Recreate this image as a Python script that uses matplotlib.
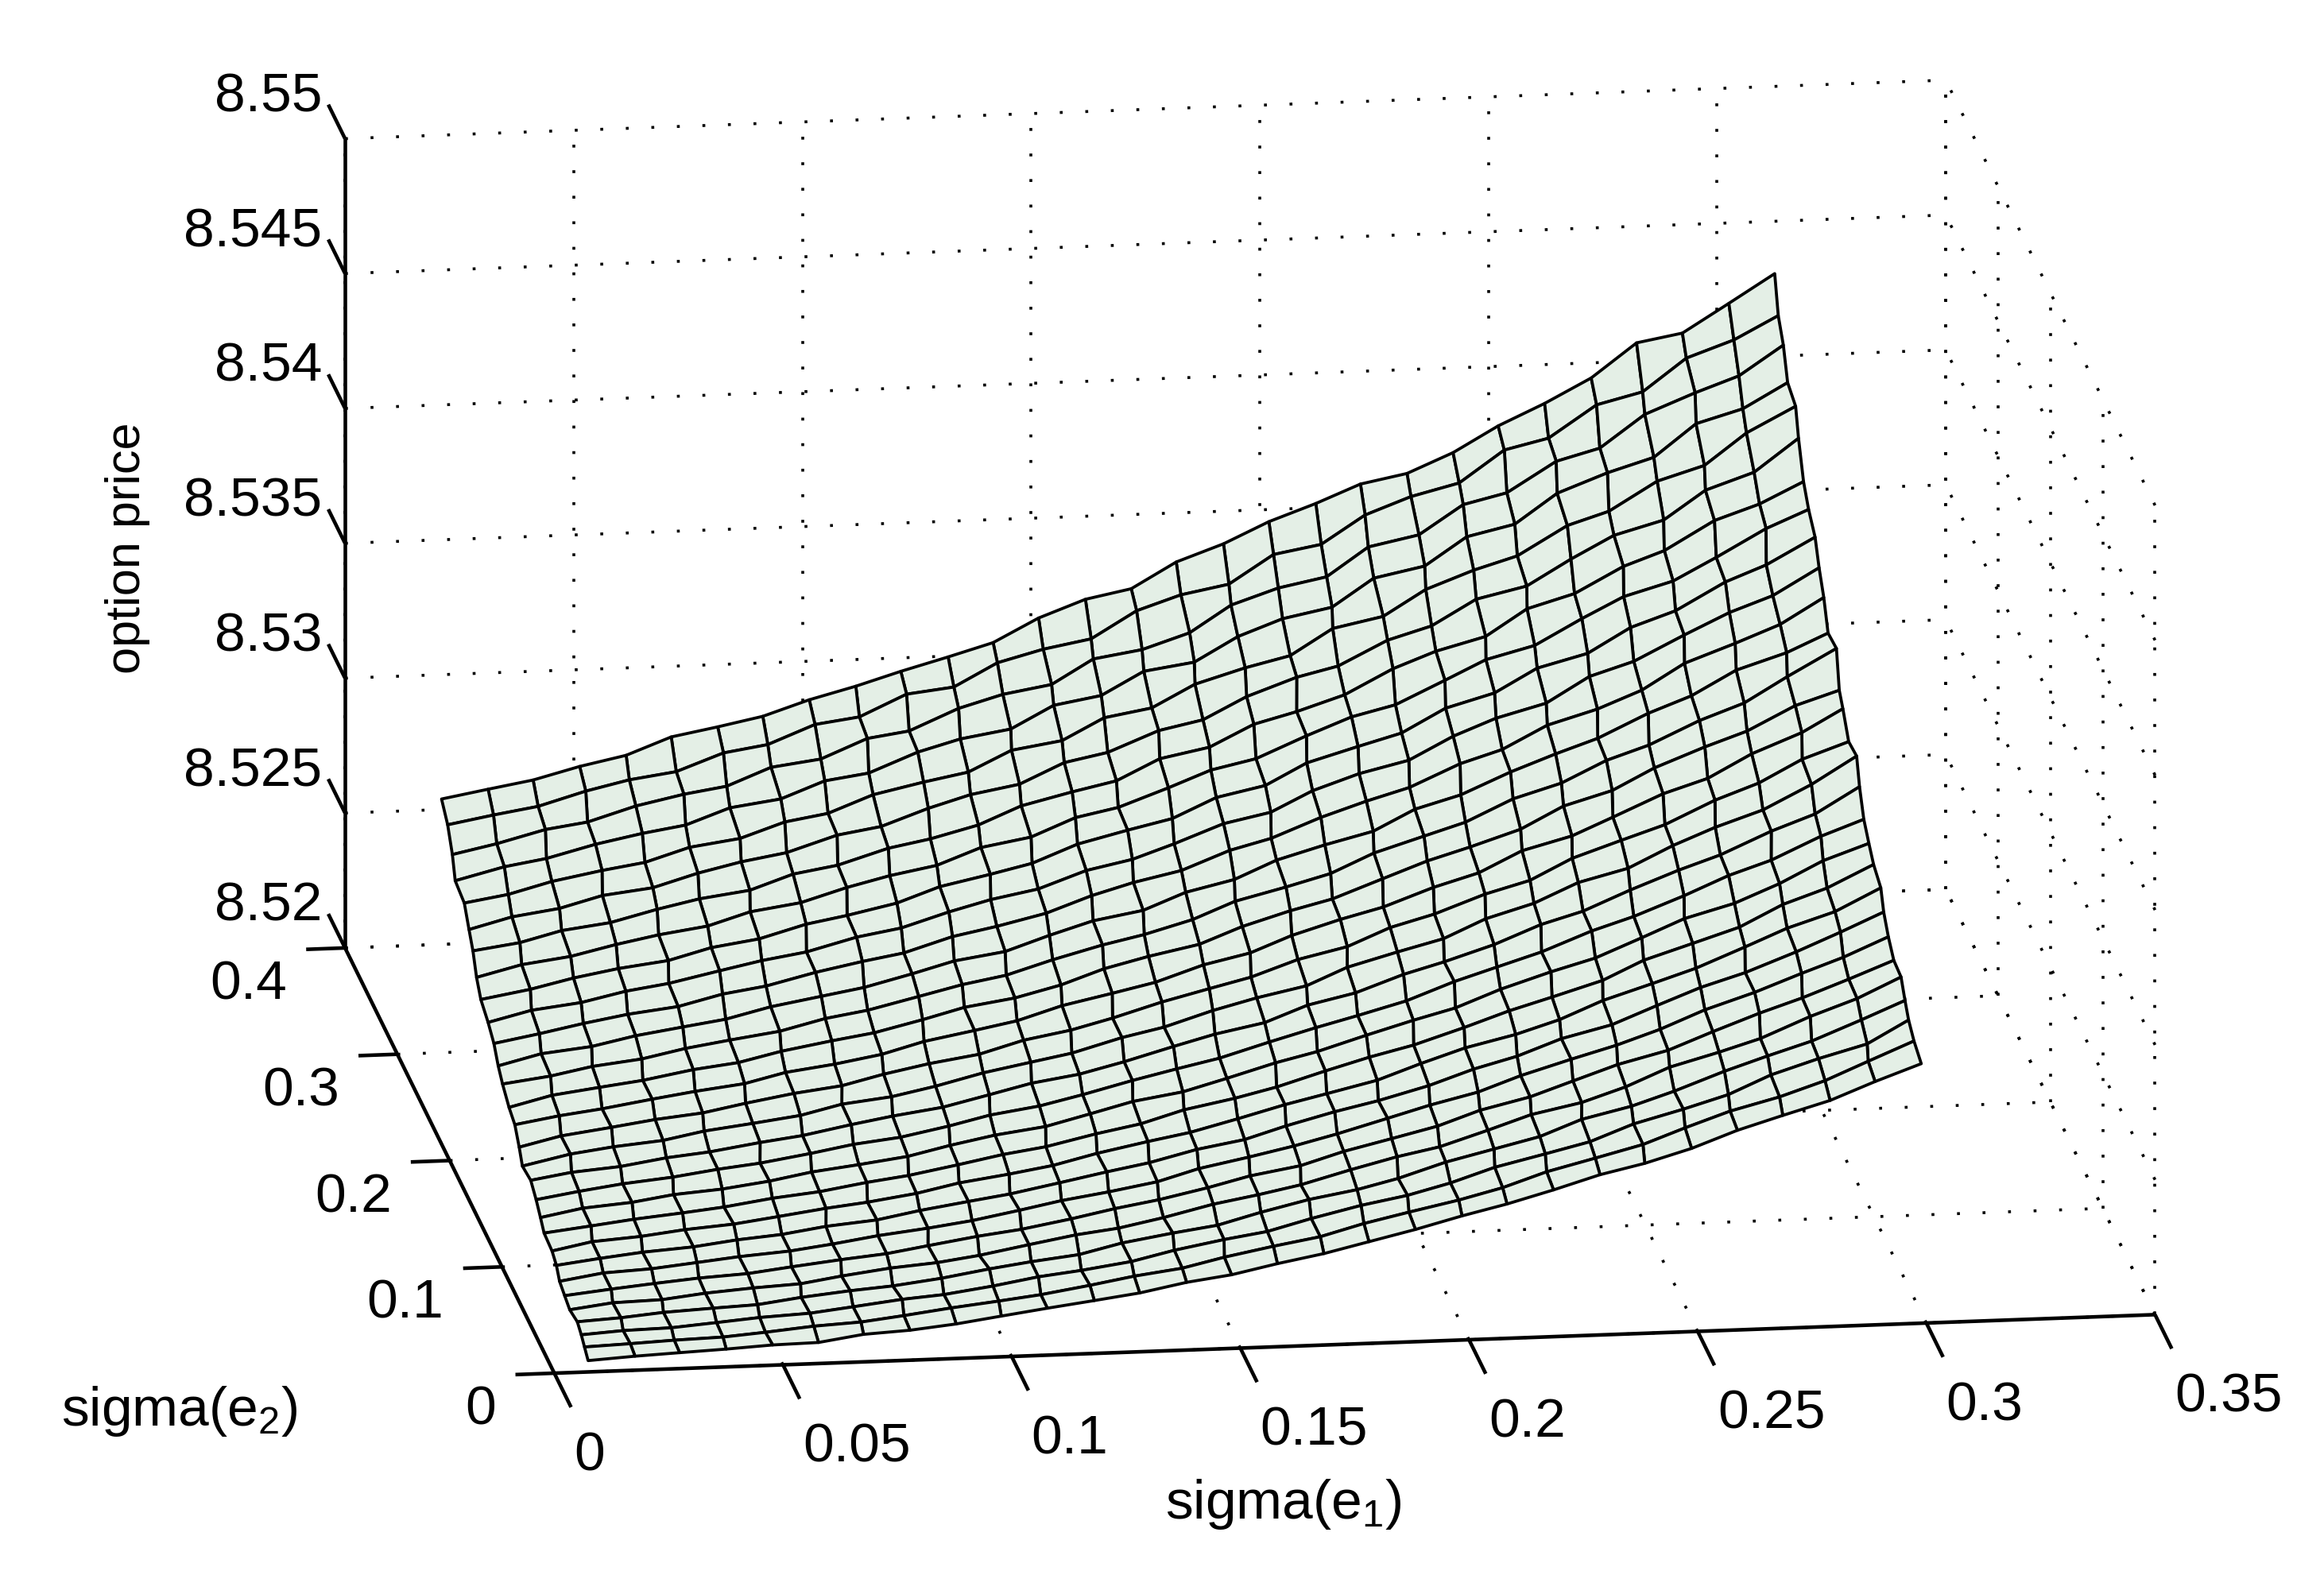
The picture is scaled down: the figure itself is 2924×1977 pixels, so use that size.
import numpy as np
import matplotlib
matplotlib.use('Agg')
import matplotlib.pyplot as plt
from mpl_toolkits.mplot3d import proj3d

plt.rcParams['font.family'] = ['Liberation Sans', 'DejaVu Sans']
plt.rcParams['mathtext.default'] = 'regular'

xticks = [0, 0.05, 0.1, 0.15, 0.2, 0.25, 0.3, 0.35]
yticks = [0, 0.1, 0.2, 0.3, 0.4]
zticks = [8.52, 8.525, 8.53, 8.535, 8.54, 8.545, 8.55]

x_vals = [.0075,.0176,.0276,.0377,.0477,.0578,.0678,.0779,.0879,.098,.108,.1181,.1281,.1382,.1482,.1583,.1683,.1784,.1884,.1985,.2085,.2186,.2286,.2387,.2487,.2588,.2688,.2789,.2889,.299]
y_vals = [.001,.0107,.0203,.030,.0396,.0493,.059,.0686,.0783,.0879,.0976,.1073,.1169,.1266,.1362,.1459,.1556,.1652,.1749,.1845,.1942,.2039,.2135,.2232,.2328,.2425,.2522,.2618,.2715,.2811]

# sigma(e1) moves a little from row to row, in units of 0.8e-4
x_shift = [
[0,2,-1,0,2,1,-1,0,1,-2,-1,1,0,2,0,-1,1,-2,0,1,-1,0,2,-2,1,0,-1,2,0,0],
[4,3,-2,5,-4,2,6,-3,1,5,-5,3,-1,4,-6,2,5,-2,-4,6,1,-5,3,7,-3,-6,4,2,-5,-6],
[9,-3,4,1,-6,5,-2,6,-5,3,2,-7,5,-4,7,-1,-6,4,6,-3,-7,5,2,-5,6,3,-6,-2,6,-7],
[12,5,-4,6,2,-5,4,-6,3,7,-4,1,-7,6,3,-5,2,7,-6,-2,5,4,-7,3,-5,6,-1,-7,4,-3],
[5,-4,6,-2,4,7,-6,1,5,-7,4,6,-3,-6,5,2,-7,3,5,-5,2,-6,7,1,-4,5,-7,3,6,0],
[5,6,-1,-6,3,-4,6,5,-7,2,-3,7,1,-5,4,-7,6,-2,4,3,-6,5,-3,-7,6,2,4,-5,-3,-6],
[5,-2,5,3,-7,6,-3,-5,7,1,6,-6,-2,5,-7,4,2,-6,7,-4,3,-7,6,4,-2,-6,5,7,-4,-7],
[10,3,-6,7,1,-3,-7,6,-2,5,-7,3,7,-4,2,6,-6,1,-5,7,4,-3,-7,5,3,-4,-7,6,2,-6],
[12,-5,4,-3,6,2,7,-6,3,-7,5,-2,-6,7,-3,1,5,-7,6,-1,-5,7,2,-6,4,-3,6,-5,1,0],
[4,6,-2,5,-7,-1,3,6,-5,4,2,-7,5,1,-6,7,-4,3,-2,-7,6,3,-5,7,-6,2,5,-3,-7,-6],
[8,-3,7,-6,2,5,-5,-2,7,-4,-6,6,3,-7,5,-1,7,-5,4,6,-4,-7,6,1,3,-7,5,2,-4,-5],
[10,1,-5,6,4,-7,6,-3,1,7,-6,3,-4,6,2,-7,4,5,-6,1,7,-3,-6,5,-5,6,3,-7,4,-5],
[9,-6,3,2,-5,7,-2,5,-7,4,6,-5,1,-3,7,-6,5,-4,2,7,-7,3,6,-5,-1,5,-6,7,2,-3],
[0,5,-3,7,-6,1,6,-7,4,-2,3,7,-6,5,-5,2,-3,7,-7,4,5,-6,1,-4,7,3,-6,-2,6,3],
[5,-7,6,-1,4,-5,2,7,-4,-6,6,1,5,-7,3,6,-5,-3,7,-2,-6,6,4,-7,2,-5,7,1,-6,-5],
[7,2,-6,5,-3,6,-7,1,5,-6,7,-3,-5,6,-1,4,7,-6,2,-7,5,3,-4,6,-7,4,1,-5,7,-7],
[5,-4,1,-7,6,3,-5,7,-2,4,-7,5,6,-3,-6,7,-1,4,-6,5,2,-7,6,-3,5,-6,7,-4,3,-3],
[1,6,-5,4,-2,-7,5,3,-6,7,1,-5,-3,7,-4,2,-7,6,3,-5,7,-6,-1,5,3,-7,6,2,-5,3],
[3,-6,7,1,5,-4,-6,6,-2,3,-7,6,2,-5,7,-3,5,-6,1,7,-4,-5,6,3,-7,5,-2,-6,7,-6],
[5,3,-2,-7,6,1,-5,4,7,-6,2,-3,7,5,-6,-1,6,-7,4,2,-5,7,-3,-6,6,1,-7,5,3,-4],
[3,-5,6,2,-6,7,-3,-7,5,1,6,-6,-1,4,5,-7,3,6,-5,-4,7,2,-6,5,-2,-7,6,3,-3,-3],
[-3,6,-1,-5,7,-2,4,6,-7,3,-5,7,-4,-6,6,2,-3,5,-7,7,1,-5,4,-6,7,-2,-4,6,-7,0],
[-1,-4,5,3,-6,2,-7,5,6,-3,1,-5,7,2,-6,5,-4,-7,6,3,-2,7,-6,1,5,-7,3,-5,6,-4],
[3,5,-6,1,4,-7,6,-2,-5,7,-3,2,-6,7,3,-5,6,1,-7,-2,5,-4,7,-6,-1,6,-7,4,2,-4],
[6,-3,2,-7,6,3,-4,-6,7,1,5,-6,3,-1,-7,6,2,-5,7,-6,4,-2,-5,7,3,-6,5,-7,1,-4],
[7,1,-5,6,-2,-6,7,3,-4,-7,6,2,-5,7,-3,1,-6,5,3,-7,6,-4,2,-5,7,-6,1,4,-6,2],
[-4,4,-6,2,5,-3,-7,6,1,-5,4,-6,7,-2,3,-7,6,-1,-4,5,-6,7,-3,2,-7,4,6,-5,-2,-6],
[2,-3,5,-6,1,6,-2,-7,4,5,-6,3,-1,6,-5,2,7,-6,-2,4,-7,5,1,-6,4,-3,-5,6,1,-4],
[3,2,-1,3,-3,-1,3,-2,2,-3,1,4,-2,-3,3,1,-3,2,-1,3,-2,-3,4,1,-3,2,3,-4,1,-4],
[0,1,-1,0,2,-1,1,-2,0,1,-1,2,0,-2,1,0,-2,1,0,2,-1,0,1,-2,0,1,0,-1,1,0],
]

# option price above 8.52, in units of 1e-5
price = [
[38,48,55,62,71,74,98,107,124,147,170,192,214,247,269,304,335,373,412,456,494,540,590,626,675,736,785,834,898,958],
[50,56,63,68,80,96,105,123,145,164,182,210,238,261,296,330,359,402,438,476,516,569,613,657,713,769,815,869,935,1004],
[57,67,71,84,97,106,124,145,157,182,210,228,254,290,323,347,389,431,462,502,554,597,636,696,744,792,859,913,961,1044],
[67,76,90,99,106,127,145,157,179,207,228,248,285,315,338,380,421,451,487,541,583,623,681,723,773,840,891,940,1012,1078],
[74,94,99,117,130,139,162,185,199,220,253,283,302,335,378,407,438,487,529,560,615,667,705,757,824,873,918,993,1053,1127],
[88,106,121,135,145,164,184,200,224,252,272,304,336,363,401,439,470,517,558,598,651,694,747,802,848,911,973,1024,1087,1151],
[103,128,137,154,170,184,204,229,250,272,304,334,360,391,434,470,505,544,595,638,680,735,789,835,888,954,1012,1076,1130,1200],
[124,144,161,174,194,208,232,249,278,305,327,362,396,424,467,497,542,588,623,672,727,769,828,873,938,999,1048,1118,1185,1254],
[139,168,181,200,214,236,260,277,303,336,362,388,427,464,492,536,582,617,660,716,768,811,860,925,981,1032,1104,1168,1223,1305],
[168,188,207,224,240,266,284,312,332,365,397,420,461,492,538,574,610,663,708,747,805,861,906,961,1030,1086,1140,1218,1273,1354],
[187,216,231,254,268,291,319,340,364,399,431,456,497,537,566,610,661,697,751,800,840,903,961,1006,1075,1140,1190,1257,1336,1394],
[215,240,262,280,303,320,349,377,397,432,467,494,530,576,613,647,700,747,786,834,899,947,997,1068,1116,1186,1255,1306,1388,1445],
[249,273,288,314,330,358,378,412,438,464,504,541,568,608,658,698,734,793,832,894,935,992,1060,1104,1176,1243,1294,1375,1433,1528],
[264,302,323,340,369,391,414,450,471,504,547,580,608,659,692,747,788,826,889,939,982,1050,1101,1172,1218,1296,1358,1416,1504,1603],
[296,332,357,380,398,428,458,480,517,550,578,624,655,694,747,790,827,886,927,992,1036,1103,1148,1224,1284,1336,1420,1478,1560,1619],
[341,368,388,417,440,462,498,522,552,594,628,658,708,747,782,840,878,937,990,1030,1096,1144,1220,1268,1332,1412,1463,1548,1620,1703],
[367,406,429,449,482,502,538,570,594,636,676,704,746,800,840,878,938,990,1028,1096,1156,1202,1261,1341,1392,1470,1541,1594,1682,1733],
[416,439,469,490,523,548,574,615,640,684,722,751,802,850,883,932,994,1040,1084,1154,1210,1256,1336,1388,1466,1517,1601,1660,1752,1850],
[445,484,504,538,564,587,627,659,686,730,772,800,854,902,934,995,1036,1102,1152,1196,1272,1319,1397,1458,1510,1596,1655,1744,1802,1869],
[490,520,552,580,602,642,666,710,744,770,824,856,898,957,1000,1038,1106,1145,1216,1270,1315,1396,1443,1527,1580,1644,1738,1805,1869,1963],
[530,569,591,627,650,690,722,748,796,824,877,917,950,1012,1047,1099,1167,1203,1277,1334,1377,1460,1521,1570,1663,1713,1804,1881,1938,2035],
[577,608,644,673,696,738,764,812,839,878,933,972,1007,1072,1117,1154,1226,1264,1342,1396,1440,1526,1576,1662,1710,1800,1856,1956,2014,2110],
[621,662,686,724,754,780,827,854,904,942,974,1034,1066,1132,1164,1230,1290,1326,1404,1468,1507,1591,1662,1708,1801,1877,1928,2010,2110,2175],
[681,705,744,767,810,843,868,922,949,1005,1034,1079,1144,1189,1224,1300,1336,1415,1456,1512,1602,1661,1709,1806,1856,1950,2003,2108,2163,2240],
[722,763,788,830,852,900,936,964,1022,1048,1109,1154,1186,1260,1292,1366,1400,1480,1545,1581,1670,1717,1810,1852,1946,2028,2078,2183,2243,2363],
[782,808,850,884,908,958,984,1039,1065,1128,1168,1199,1274,1303,1382,1412,1494,1548,1587,1682,1720,1814,1879,1926,2032,2079,2184,2236,2351,2443],
[827,872,897,943,977,1002,1060,1086,1147,1170,1241,1284,1314,1396,1426,1510,1537,1626,1686,1722,1824,1862,1965,2005,2114,2183,2234,2353,2402,2493],
[886,920,966,988,1041,1078,1102,1166,1190,1260,1282,1359,1405,1435,1524,1552,1608,1705,1762,1797,1902,1940,2046,2084,2194,2237,2356,2429,2486,2594],
[958,988,1014,1064,1100,1124,1187,1212,1280,1302,1380,1400,1484,1528,1560,1658,1711,1744,1848,1879,1982,2044,2088,2204,2242,2359,2401,2520,2581,2665],
[1016,1046,1074,1118,1153,1215,1246,1279,1334,1378,1427,1474,1521,1606,1669,1702,1795,1856,1932,1993,2059,2092,2163,2256,2333,2421,2545,2575,2679,2783],
]

W, H = 2924, 1977
S = W/1568

X, Y = np.meshgrid(x_vals, y_vals)
X = X + np.array(x_shift)*0.8e-4
Z = 8.52 + np.array(price)*1e-5

fig = plt.figure(figsize=(W/100, H/100), dpi=100)
ax = fig.add_axes([0.1, 0.1, 0.8, 0.8], projection='3d', proj_type='ortho', computed_zorder=False)
ax.view_init(elev=15.82, azim=-97.64)
ax.set_box_aspect((1089.6, 1062, 567.6))
ax.set_xlim(0, 0.35, view_margin=0)
ax.set_ylim(0, 0.4, view_margin=0)
ax.set_zlim(8.52, 8.55, view_margin=0)
ax.set_axis_off()

x1, y1, z0, z1 = xticks[-1], yticks[-1], zticks[0], zticks[-1]


def to_px(x, y, z):
    u, v, _ = proj3d.proj_transform(x, y, z, ax.get_proj())
    return ax.transData.transform((u, v))


# scale and move the box so the x axis lands where it is in the picture
for n in range(3):
    fig.canvas.draw()
    p0, p1 = to_px(0, 0, z0), to_px(x1, 0, z0)
    pos = ax.get_position(original=True)
    k = 1080*S/(p1[0]-p0[0])
    ax.set_position([pos.x0, pos.y0, pos.width*k, pos.height*k])
    fig.canvas.draw()
    p0 = to_px(0, 0, z0)
    pos = ax.get_position(original=True)
    ax.set_position([pos.x0+(374*S-p0[0])/W, pos.y0+((1060-926.5)*S-p0[1])/H, pos.width, pos.height])
fig.canvas.draw()

dots = dict(color='k', lw=2.6, ls=(0, (1, 7.9)), zorder=1)
for v in xticks:
    ax.plot([v, v], [0, y1], [z0, z0], **dots)
    ax.plot([v, v], [y1, y1], [z0, z1], **dots)
for v in yticks:
    ax.plot([0, x1], [v, v], [z0, z0], **dots)
    ax.plot([x1, x1], [v, v], [z0, z1], **dots)
for v in zticks:
    ax.plot([0, x1], [y1, y1], [v, v], **dots)
    ax.plot([x1, x1], [0, y1], [v, v], **dots)

ax.plot_surface(X, Y, Z, rstride=1, cstride=1, color='#e4efe6', edgecolor='k', linewidth=2.7, shade=False, zorder=2)

axis = dict(color='k', lw=3.3, zorder=3, solid_capstyle='butt')
ax.plot([0, x1], [0, 0], [z0, z0], **axis)
ax.plot([0, 0], [0, y1], [z0, z0], **axis)
ax.plot([0, 0], [y1, y1], [z0, z1], **axis)


def label(px, dx, dy, s, ha):
    fig.text((px[0]+dx*S)/W, (px[1]-dy*S)/H, s, ha=ha, va='center', fontsize=50)


for v in xticks:
    ax.plot([v, v], [0, -0.032], [z0, z0], **axis)
    label(to_px(v, -0.032, z0), 2, 33, '%g' % v, 'left')
for v in yticks:
    ax.plot([0, -0.0085], [v, v], [z0, z0], **axis)
    label(to_px(-0.0085, v, z0), -13, 24, '%g' % v, 'right')
for v in zticks:
    ax.plot([0, 0], [y1, y1+0.032], [v, v], **axis)
    label(to_px(0, y1+0.032, v), -4, -5, '%g' % v, 'right')

fig.text(86/1568, 1-370/1060, 'option price', rotation=90, ha='center', va='center', fontsize=44)
fig.text(121/1568, 1-952/1060, 'sigma(e$_2$)', ha='center', va='center', fontsize=50)
fig.text(866/1568, 1-1015/1060, 'sigma(e$_1$)', ha='center', va='center', fontsize=50)

fig.savefig('out.png', dpi=100)
